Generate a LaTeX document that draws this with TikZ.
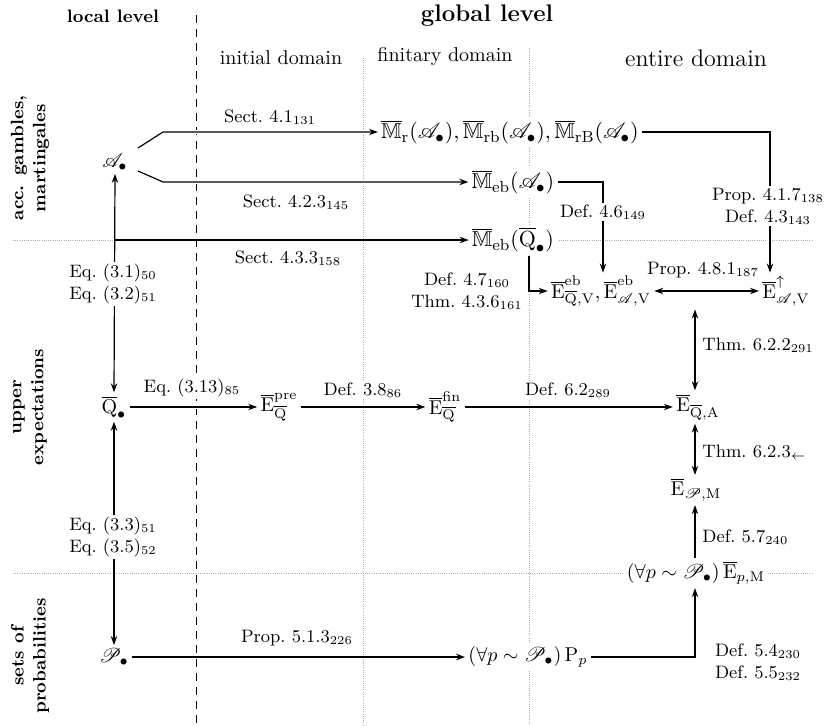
\documentclass[tikz,border=0pt]{standalone}
\usepackage{amssymb}
\usepackage{mathrsfs}
\usetikzlibrary{arrows.meta,calc}
\begin{document}
\begin{tikzpicture}[x=0.5pt,y=-0.5pt,
  >={Stealth[length=4.5pt,width=3.2pt]},
  conn/.style={line width=0.6pt, preaction={-,draw=white,line width=2pt}},
  plain/.style={line width=0.6pt},
  obj/.style={fill=white, inner sep=1.5pt},
  lab/.style={font=\small, fill=white, inner sep=1pt, align=center},
  rowlab/.style={font=\small\bfseries, rotate=90, align=center},
  gridline/.style={gray!65, line width=0.4pt, dash pattern=on 0.4pt off 0.7pt},
  sepline/.style={line width=0.5pt, dash pattern=on 4pt off 3pt},
  ]
\useasboundingbox (0,0) rectangle (825,726);

% grid
\draw[sepline] (196,15) -- (196,726);
\draw[gridline] (363,58) -- (363,726);
\draw[gridline] (529,48) -- (529,726);
\draw[gridline] (13,240) -- (812,240);
\draw[gridline] (13,573) -- (812,573);

% headings
\node[font=\small\bfseries] (loc) at (113,16) {local level};
\node[font=\large\bfseries] (glob) at (487,16) {global level};
\node (hinit) at (281,58) {initial domain};
\node (hfin) at (445,57) {finitary domain};
\node[font=\large] (hent) at (696,58) {entire domain};

\node[rowlab] (r1) at (30,158) {acc. gambles,\\martingales};
\node[rowlab] (r2) at (30,407) {upper\\expectations};
\node[rowlab] (r3) at (30,656) {sets of\\probabilities};

% objects
\node[obj] (A) at (115,162) {$\mathscr{A}_\bullet$};
\node[obj] (Q) at (114,407) {$\overline{\mathrm{Q}}_\bullet$};
\node[obj] (P) at (114,657) {$\mathscr{P}_\bullet$};
\node[obj, font=\fontsize{10.8}{13}\selectfont] (Mr) at (510,132) {$\overline{\mathbb{M}}_{\mathrm{r}}(\mathscr{A}_\bullet), \overline{\mathbb{M}}_{\mathrm{rb}}(\mathscr{A}_\bullet), \overline{\mathbb{M}}_{\mathrm{rB}}(\mathscr{A}_\bullet)$};
\node[obj, font=\fontsize{10.8}{13}\selectfont] (MebA) at (513,182) {$\overline{\mathbb{M}}_{\mathrm{eb}}(\mathscr{A}_\bullet)$};
\node[obj, font=\fontsize{10.8}{13}\selectfont] (MebQ) at (513,240) {$\overline{\mathbb{M}}_{\mathrm{eb}}(\overline{\mathrm{Q}}_\bullet)$};
\node[obj] (Eeb) at (601,291) {$\overline{\mathrm{E}}^{\mathrm{eb}}_{\overline{\mathrm{Q}},\mathrm{V}}, \overline{\mathrm{E}}^{\mathrm{eb}}_{\mathscr{A},\mathrm{V}}$};
\node[obj] (Eup) at (786,291) {$\overline{\mathrm{E}}^{\uparrow}_{\mathscr{A},\mathrm{V}}$};
\node[obj] (Epre) at (279,407) {$\overline{\mathrm{E}}^{\mathrm{pre}}_{\overline{\mathrm{Q}}}$};
\node[obj] (Efin) at (445,407) {$\overline{\mathrm{E}}^{\mathrm{fin}}_{\overline{\mathrm{Q}}}$};
\node[obj] (EQA) at (698,407) {$\overline{\mathrm{E}}_{\overline{\mathrm{Q}},\mathrm{A}}$};
\node[obj] (EPM) at (696,490) {$\overline{\mathrm{E}}_{\mathscr{P},\mathrm{M}}$};
\node[obj] (EpM) at (696,573) {$(\forall p\sim\mathscr{P}_\bullet)\,\overline{\mathrm{E}}_{p,\mathrm{M}}$};
\node[obj] (Pp) at (528,657) {$(\forall p\sim\mathscr{P}_\bullet)\,\mathrm{P}_p$};

% helper coordinates
\coordinate (a1) at (138,148);
\coordinate (a1b) at (163,132);
\coordinate (a2) at (138,171);
\coordinate (a2b) at (163,182);
\coordinate (jq) at (114,240);
\coordinate (ebx) at (603,0);
\coordinate (upx) at (770,0);
\coordinate (qx) at (529,0);
\coordinate (eqx) at (695,0);

% connectors
\draw[conn,->] (a1) -- (a1b) -- (Mr.west);
\draw[conn,->] (a2) -- (a2b) -- (MebA.west);
\draw[conn,<->] (A.south) -- (Q.north);
\draw[plain,->] (jq) -- (MebQ.west);
\draw[conn,<->] (Q.south) -- (P.north);
\draw[conn,->] (Mr.east) -| (upx |- Eup.north);
\draw[conn,->] (MebA.east) -| (ebx |- Eeb.north);
\draw[conn,->] (qx |- MebQ.south) |- (Eeb.west);
\draw[conn,<->] (Eeb.east) -- (Eup.west);
\draw[conn,<->] (eqx |- Eeb.south) -- (eqx |- EQA.north);
\draw[conn,->] (Q.east) -- (Epre.west);
\draw[conn,->] (Epre.east) -- (Efin.west);
\draw[conn,->] (Efin.east) -- (EQA.west);
\draw[conn,<->] (eqx |- EQA.south) -- (eqx |- EPM.north);
\draw[conn,->] (eqx |- EpM.north) -- (eqx |- EPM.south);
\draw[conn,->] (P.east) -- (Pp.west);
\draw[conn,->] (Pp.east) -| (eqx |- EpM.south);

% labels
\node[lab] (l1) at (270,117) {Sect.~4.1$_{131}$};
\node[lab] (l2) at (296,202) {Sect.~4.2.3$_{145}$};
\node[lab] (l3) at (288,258) {Sect.~4.3.3$_{158}$};
\node[lab] (l4) at (768,206) {Prop.~4.1.7$_{138}$\\Def.~4.3$_{143}$};
\node[lab] (l5) at (603,212) {Def.~4.6$_{149}$};
\node[lab] (l6) at (467,291) {Def.~4.7$_{160}$\\Thm.~4.3.6$_{161}$};
\node[lab] (l7) at (703,270) {Prop.~4.8.1$_{187}$};
\node[lab, anchor=west] (l8) at (700,345) {Thm.~6.2.2$_{291}$};
\node[lab, anchor=west] (l9) at (700,452) {Thm.~6.2.3$_{\leftarrow}$};
\node[lab, anchor=west] (l10) at (700,537) {Def.~5.7$_{240}$};
\node[lab] (l11) at (758,662) {Def.~5.4$_{230}$\\Def.~5.5$_{232}$};
\node[lab] (l12) at (113,284) {Eq.~(3.1)$_{50}$\\Eq.~(3.2)$_{51}$};
\node[lab] (l13) at (113,537) {Eq.~(3.3)$_{51}$\\Eq.~(3.5)$_{52}$};
\node[lab] (l14) at (192,388) {Eq.~(3.13)$_{85}$};
\node[lab] (l15) at (363,390) {Def.~3.8$_{86}$};
\node[lab] (l16) at (568,390) {Def.~6.2$_{289}$};
\node[lab] (l17) at (297,638) {Prop.~5.1.3$_{226}$};
\end{tikzpicture}
\end{document}
